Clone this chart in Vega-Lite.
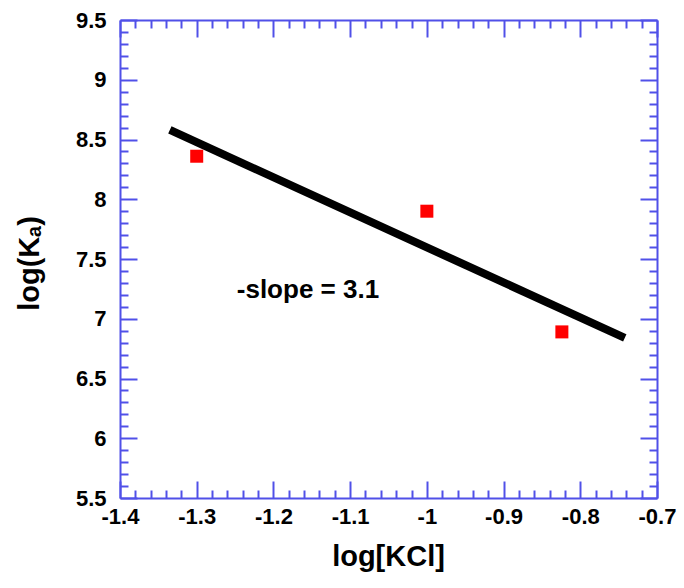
{
  "$schema": "https://vega.github.io/schema/vega-lite/v6.json",
  "width": 537,
  "height": 478,
  "autosize": "none",
  "padding": {"left": 120, "top": 20, "right": 27, "bottom": 90},
  "background": "white",
  "config": {
    "view": {"stroke": null},
    "axis": {
      "domainColor": "#5050E8",
      "domainWidth": 2,
      "tickColor": "#5050E8",
      "tickWidth": 2,
      "grid": false,
      "labelFont": "Liberation Sans",
      "labelFontWeight": "bold",
      "labelFontSize": 22,
      "labelColor": "black",
      "labelOverlap": false,
      "labelFlush": false,
      "titleFont": "Liberation Sans",
      "titleFontWeight": "bold",
      "titleFontSize": 29,
      "titleColor": "black"
    }
  },
  "datasets": {
    "fit": [
      {"logKCl": -1.335, "logKa": 8.58},
      {"logKCl": -0.742, "logKa": 6.84}
    ],
    "measured": [
      {"logKCl": -1.3, "logKa": 8.36},
      {"logKCl": -1.0, "logKa": 7.9},
      {"logKCl": -0.824, "logKa": 6.89}
    ],
    "note": [
      {"logKCl": -1.155, "logKa": 7.24, "label": "-slope = 3.1"}
    ]
  },
  "resolve": {"axis": {"x": "independent", "y": "independent"}},
  "layer": [
    {
      "data": {"name": "fit"},
      "mark": {"type": "line", "color": "black", "strokeWidth": 8, "strokeCap": "butt"},
      "encoding": {
        "x": {
          "field": "logKCl", "type": "quantitative",
          "scale": {"domain": [-1.4, -0.7], "nice": false, "zero": false},
          "axis": {
            "orient": "bottom",
            "title": "log[KCl]",
            "titleX": 268,
            "titleY": 58,
            "titleBaseline": "middle",
            "labelPadding": 25,
            "values": [-1.4,-1.38,-1.36,-1.34,-1.32,-1.3,-1.28,-1.26,-1.24,-1.22,-1.2,-1.18,-1.16,-1.14,-1.12,-1.1,-1.08,-1.06,-1.04,-1.02,-1,-0.98,-0.96,-0.94,-0.92,-0.9,-0.88,-0.86,-0.84,-0.82,-0.8,-0.78,-0.76,-0.74,-0.72,-0.7],
            "tickSize": {"condition": {"test": "abs(datum.value*10 - round(datum.value*10)) < 0.001", "value": -17}, "value": -8},
            "labelExpr": "abs(datum.value*10 - round(datum.value*10)) < 0.001 ? '' + datum.value : ''"
          }
        },
        "y": {
          "field": "logKa", "type": "quantitative",
          "scale": {"domain": [5.5, 9.5], "nice": false, "zero": false},
          "axis": {
            "orient": "left",
            "title": "log(Kₐ)",
            "titleX": -91,
            "titleY": 243,
            "titleBaseline": "middle",
            "labelPadding": 31,
            "values": [5.5,5.6,5.7,5.8,5.9,6,6.1,6.2,6.3,6.4,6.5,6.6,6.7,6.8,6.9,7,7.1,7.2,7.3,7.4,7.5,7.6,7.7,7.8,7.9,8,8.1,8.2,8.3,8.4,8.5,8.6,8.7,8.8,8.9,9,9.1,9.2,9.3,9.4,9.5],
            "tickSize": {"condition": {"test": "abs(datum.value*2 - round(datum.value*2)) < 0.001", "value": -17}, "value": -8},
            "labelExpr": "abs(datum.value*2 - round(datum.value*2)) < 0.001 ? '' + datum.value : ''"
          }
        }
      }
    },
    {
      "data": {"name": "measured"},
      "mark": {"type": "point", "shape": "square", "filled": true, "color": "#FF0000", "opacity": 1, "size": 169},
      "encoding": {
        "x": {
          "field": "logKCl", "type": "quantitative",
          "scale": {"domain": [-1.4, -0.7], "nice": false, "zero": false},
          "axis": {
            "orient": "top",
            "title": null,
            "labels": false,
            "values": [-1.4,-1.38,-1.36,-1.34,-1.32,-1.3,-1.28,-1.26,-1.24,-1.22,-1.2,-1.18,-1.16,-1.14,-1.12,-1.1,-1.08,-1.06,-1.04,-1.02,-1,-0.98,-0.96,-0.94,-0.92,-0.9,-0.88,-0.86,-0.84,-0.82,-0.8,-0.78,-0.76,-0.74,-0.72,-0.7],
            "tickSize": {"condition": {"test": "abs(datum.value*10 - round(datum.value*10)) < 0.001", "value": -17}, "value": -8}
          }
        },
        "y": {
          "field": "logKa", "type": "quantitative",
          "scale": {"domain": [5.5, 9.5], "nice": false, "zero": false},
          "axis": {
            "orient": "right",
            "title": null,
            "labels": false,
            "values": [5.5,5.6,5.7,5.8,5.9,6,6.1,6.2,6.3,6.4,6.5,6.6,6.7,6.8,6.9,7,7.1,7.2,7.3,7.4,7.5,7.6,7.7,7.8,7.9,8,8.1,8.2,8.3,8.4,8.5,8.6,8.7,8.8,8.9,9,9.1,9.2,9.3,9.4,9.5],
            "tickSize": {"condition": {"test": "abs(datum.value*2 - round(datum.value*2)) < 0.001", "value": -17}, "value": -8}
          }
        }
      }
    },
    {
      "data": {"name": "note"},
      "mark": {"type": "text", "font": "Liberation Sans", "fontWeight": "bold", "fontSize": 26, "color": "black", "align": "center", "baseline": "middle"},
      "encoding": {
        "x": {"field": "logKCl", "type": "quantitative", "axis": null},
        "y": {"field": "logKa", "type": "quantitative", "axis": null},
        "text": {"field": "label"}
      }
    }
  ]
}
